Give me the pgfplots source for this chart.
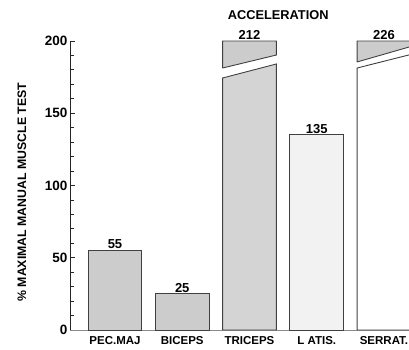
\documentclass[border=0pt]{standalone}
\usepackage{fontspec}
\setmainfont{Liberation Sans}
\usepackage{pgfplots}
\pgfplotsset{compat=1.18}
\begin{document}
\begin{tikzpicture}[x=1pt,y=1pt]
\clip (0,0) rectangle (409,349);
\path[use as bounding box] (0,0) rectangle (409,349);
\begin{axis}[
  at={(70pt,19pt)}, anchor=south west, scale only axis,
  width=339pt, height=289pt,
  xmin=-0.669, xmax=4.372, ymin=0, ymax=200,
  axis x line=bottom, axis y line=left,
  axis line style={-, line width=1pt, black!85},
  x axis line style={black!45},
  xtick={0,1,2,3,4},
  xticklabels={PEC.MAJ, BICEPS, TRICEPS, L ATIS., SERRAT.},
  x tick style={draw=none},
  ytick={0,50,100,150,200},
  minor ytick={10,20,30,40,60,70,80,90,110,120,130,140,160,170,180,190},
  tick align=inside, major tick length=5pt, minor tick length=4pt,
  every tick/.style={line width=0.9pt, black!85},
  minor tick style={line width=0.9pt, black!85},
  /pgf/number format/assume math mode=true,
  yticklabel style={font=\bfseries\fontsize{13.5}{13.5}\selectfont, xshift=1pt},
  xticklabel style={font=\bfseries\fontsize{11.5}{11.5}\selectfont, yshift=-2.5pt},
  ylabel={\% MAXIMAL MANUAL MUSCLE TEST},
  every axis y label/.style={at={(axis description cs:-0.142,0.477)}, rotate=90, anchor=center,
     font=\bfseries\fontsize{12.3}{12.3}\selectfont},
  title={ACCELERATION},
  every axis title/.style={at={(axis description cs:0.614,1.09)}, anchor=center,
     font=\bfseries\fontsize{12.8}{12.8}\selectfont},
  clip=false,
  every node near coord/.append style={font=\bfseries\fontsize{13}{13}\selectfont, inner sep=1pt, black},
]
% ordinary bars
\addplot[ybar, bar shift=0pt, bar width=0.8, fill=black!20, draw=black!75, line width=0.9pt,
  nodes near coords] coordinates {(0,55)};
\addplot[ybar, bar shift=0pt, bar width=0.8, fill=black!20, draw=black!75, line width=0.9pt,
  nodes near coords] coordinates {(1,25)};
\addplot[ybar, bar shift=0pt, bar width=0.8, fill=black!5, draw=black!75, line width=0.9pt,
  nodes near coords] coordinates {(3,135)};
% broken bar: TRICEPS (212)
\addplot[fill=black!17, draw=black!75, line width=0.9pt] coordinates
  {(1.6,0) (2.4,0) (2.4,184.1) (1.6,174.4) (1.6,0)};
\addplot[fill=black!20, draw=black!75, line width=0.9pt] coordinates
  {(1.6,181.3) (2.4,190.3) (2.4,200) (1.6,200) (1.6,181.3)};
% broken bar: SERRAT. (226)
\addplot[fill=white, draw=black!75, line width=0.9pt] coordinates
  {(3.6,0) (4.4,0) (4.4,190.7) (3.6,181.3) (3.6,0)};
\addplot[fill=black!20, draw=black!75, line width=0.9pt] coordinates
  {(3.6,185.5) (4.4,196.2) (4.4,200) (3.6,200) (3.6,185.5)};
% labels of the broken bars
\addplot[draw=none, mark=none, nodes near coords, point meta=explicit symbolic]
  coordinates {(2,200) [212] (4,200) [226]};
\end{axis}
\end{tikzpicture}
\end{document}
